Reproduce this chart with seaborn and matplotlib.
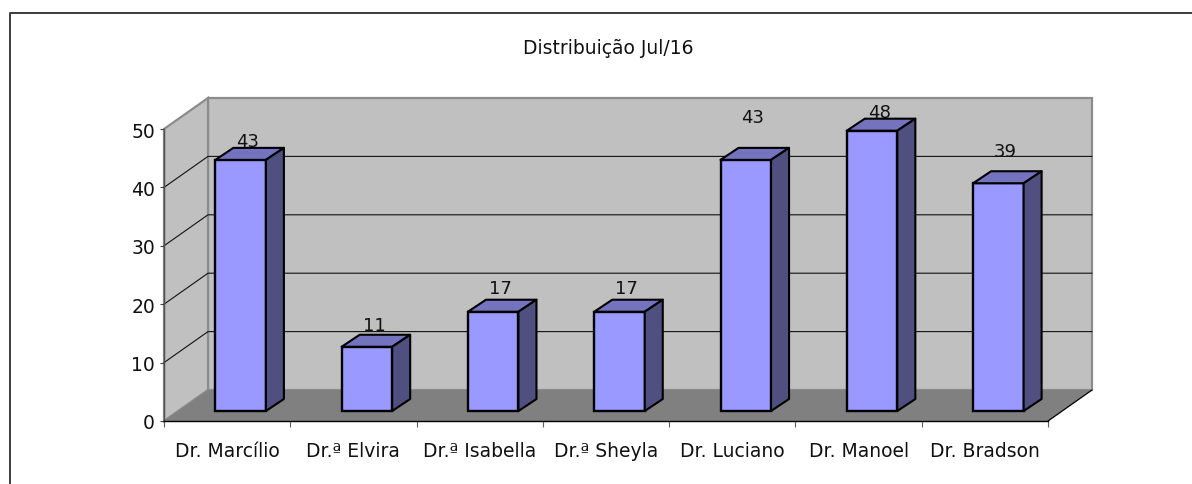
import matplotlib
matplotlib.use("Agg")
import matplotlib.pyplot as plt
from matplotlib.lines import Line2D
import seaborn as sns

categories = ["Dr. Marcílio", "Dr.ª Elvira", "Dr.ª Isabella", "Dr.ª Sheyla",
              "Dr. Luciano", "Dr. Manoel", "Dr. Bradson"]
values = [43, 11, 17, 17, 43, 48, 39]
y_ticks = [0, 10, 20, 30, 40, 50]
title = "Distribuição Jul/16"
# label nudges in pixels (hand-placed in the reference)
label_dy_px = [19, 22, 24, 24, 43, 19, 32]

W, H = 1192, 485
FONT = "DejaVu Sans"
sns.set_theme(style="white")
plt.rcParams["font.family"] = [FONT]

fig = plt.figure(figsize=(W / 100, H / 100), dpi=100, facecolor="white")
L, R, T, B = 164, 1048, 130, 422
ax = fig.add_axes([L / W, 1 - B / H, (R - L) / W, (B - T) / H])
ax.set_xlim(-0.5, 6.5)
ax.set_ylim(0, 50)
ax.set_facecolor("none")

px_x = (R - L) / 7       # pixels per category
px_y = (B - T) / 50      # pixels per unit
DX, DY = 44 / px_x, 31 / px_y        # wall depth in data units
BX, BY = 14 / px_x, 10 / px_y        # bar front plane
SX, SY = 18 / px_x, 12 / px_y        # bar depth
x0, x1 = -0.5, 6.5
ymax = y_ticks[-1]

sns.barplot(x=categories, y=values, ax=ax, width=0.4, color="#9999FF",
            saturation=1, edgecolor="black", linewidth=1.7, zorder=3)
ax.set_xlim(x0, x1)
ax.set_ylim(0, ymax)

WALL, FLOOR, EDGE = "#C0C0C0", "#808080", "#8C8C8C"
ax.fill([x0 + DX, x1 + DX, x1 + DX, x0 + DX], [DY, DY, ymax + DY, ymax + DY],
        fc=WALL, ec=EDGE, lw=1.6, clip_on=False, zorder=0.5)
ax.fill([x0, x0 + DX, x0 + DX, x0], [0, DY, ymax + DY, ymax],
        fc=WALL, ec=EDGE, lw=1.6, clip_on=False, zorder=0.5)
ax.fill([x0, x1, x1 + DX, x0 + DX], [0, 0, DY, DY],
        fc=FLOOR, ec="none", clip_on=False, zorder=0.6)
ax.plot([x1, x1 + DX], [0, DY], color="black", lw=0.9, clip_on=False, zorder=0.7)
for t in y_ticks[1:-1]:
    ax.plot([x0, x0 + DX, x1 + DX], [t, t + DY, t + DY], color="#111111",
            lw=0.8, clip_on=False, zorder=0.7)

for i, (bar, v) in enumerate(zip(ax.containers[0], values)):
    bar.set_x(bar.get_x() + BX - 0.5 / px_x)
    bar.set_y(BY)
    bar.set_clip_on(False)
    l, r = bar.get_x(), bar.get_x() + bar.get_width()
    b, h = BY, BY + v
    ax.text((l + r) / 2 + 7 / px_x, h + label_dy_px[i] / px_y, str(v), ha="center",
            va="center", fontsize=13, color="#111111", zorder=2, clip_on=False)
    ax.fill([l, r, r + SX, l + SX], [h, h, h + SY, h + SY], fc="#7373BF", ec="black",
            lw=1.5, joinstyle="round", clip_on=False, zorder=4)
    ax.fill([r, r + SX, r + SX, r], [b, b + SY, h + SY, h], fc="#4F4F80", ec="black",
            lw=1.5, joinstyle="round", clip_on=False, zorder=4)

for s in ("top", "right"):
    ax.spines[s].set_visible(False)
ax.spines["left"].set_color("#505050")
ax.spines["left"].set_linewidth(1.0)
ax.spines["bottom"].set_color("black")
ax.spines["bottom"].set_linewidth(1.0)
ax.spines["left"].set_zorder(1)
ax.spines["bottom"].set_zorder(1)

ax.set_yticks(y_ticks)
ax.tick_params(axis="y", left=True, length=3, width=0.8, color="#404040",
               labelsize=13.5, pad=3.5, labelcolor="#111111")
ax.set_xticks(range(len(categories)), categories)
ax.set_xticks([i - 0.5 for i in range(len(categories) + 1)], minor=True)
ax.tick_params(axis="x", which="major", bottom=False, labelsize=13.5, pad=19.5,
               labelcolor="#111111")
for lab in ax.get_xticklabels():
    lab.set_va("baseline")
ax.tick_params(axis="x", which="minor", bottom=True, length=4.5, width=0.8, color="#606060")
ax.set_xlabel("")
ax.set_ylabel("")

fig.text(608 / W, 1 - 48 / H, title, ha="center", va="center", fontsize=13.5,
         color="#111111")
fig.add_artist(Line2D([10 / W, 10 / W, 1], [0, 1 - 14 / H, 1 - 14 / H],
                      color="#3C3C3C", lw=1.4))
fig.savefig("out.png", dpi=100)
